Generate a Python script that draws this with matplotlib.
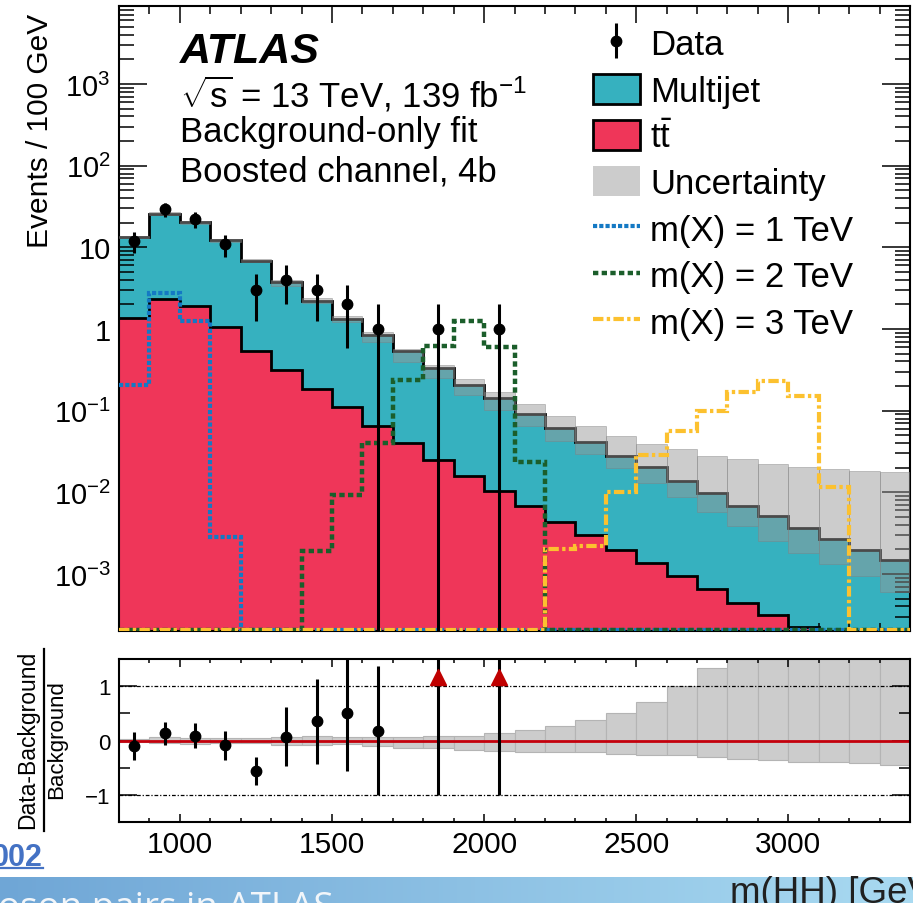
import numpy as np
import matplotlib
matplotlib.use('Agg')
import matplotlib.pyplot as plt
from matplotlib.patches import Patch
from matplotlib.lines import Line2D
from matplotlib.colors import LinearSegmentedColormap
from matplotlib.ticker import LogLocator, FuncFormatter, MultipleLocator, FixedLocator, NullFormatter

plt.rcParams['font.family'] = ['Liberation Sans', 'DejaVu Sans']
plt.rcParams['mathtext.fontset'] = 'custom'
plt.rcParams['mathtext.rm'] = 'Liberation Sans'
plt.rcParams['mathtext.it'] = 'Liberation Sans:italic'
plt.rcParams['mathtext.bf'] = 'Liberation Sans:bold'

# bins in m(HH) [GeV]
edges = np.arange(800, 3401, 100)
centers = edges[:-1] + 50

# total background (multijet + ttbar)
total_bkg = np.array([13.4, 25.6, 20.2, 12.1, 6.86, 3.73, 2.22, 1.33, 0.845, 0.543,
                      0.333, 0.206, 0.142, 0.091, 0.0608, 0.0417, 0.0281, 0.0202, 0.0139,
                      0.00973, 0.00686, 0.00509, 0.00363, 0.00268, 0.00199, 0.00146])
ttbar = np.array([1.36, 2.33, 1.93, 1.06, 0.538, 0.315, 0.184, 0.111, 0.0655, 0.0402,
                  0.0249, 0.016, 0.0105, 0.00687, 0.00437, 0.0030, 0.00199, 0.00136, 0.00095,
                  0.000645, 0.000442, 0.000315, 0.000222, 0.00015, 0.0001, 0.00007])
# uncertainty band edges (main panel)
unc_hi = np.array([13.9, 27.0, 21.2, 12.6, 7.15, 3.97, 2.40, 1.42, 0.91, 0.569,
                   0.363, 0.244, 0.168, 0.121, 0.0853, 0.0644, 0.0486, 0.0391, 0.034,
                   0.0281, 0.0258, 0.0222, 0.0206, 0.0193, 0.0184, 0.0176])
unc_lo = np.array([13.0, 24.6, 19.1, 11.6, 6.55, 3.40, 2.05, 1.23, 0.687, 0.391,
                   0.249, 0.155, 0.102, 0.064, 0.0429, 0.0295, 0.0197, 0.0130, 0.0087,
                   0.0057, 0.0039, 0.00256, 0.00179, 0.00133, 0.00095, 0.000597])
# relative uncertainty in the ratio panel
ratio_hi = np.array([0.03, 0.06, 0.05, 0.04, 0.04, 0.06, 0.09, 0.06, 0.06, 0.06, 0.09, 0.08, 0.14,
                     0.20, 0.27, 0.37, 0.50, 0.70, 1.00, 1.34, 2.0, 2.0, 2.0, 2.0, 2.0, 2.0])
ratio_lo = np.array([0.03, 0.04, 0.06, 0.04, 0.04, 0.09, 0.08, 0.07, 0.10, 0.14, 0.14, 0.17, 0.19,
                     0.21, 0.21, 0.22, 0.24, 0.26, 0.26, 0.31, 0.34, 0.36, 0.39, 0.39, 0.42, 0.46])

data = np.array([12, 29, 22, 11, 3, 4, 3, 2, 1, 0, 1, 0, 1,
                 0, 0, 0, 0, 0, 0, 0, 0, 0, 0, 0, 0, 0])

sig_1tev = np.array([0.206, 2.76, 1.26, 0.00282, 0, 0, 0, 0, 0, 0, 0, 0, 0,
                     0, 0, 0, 0, 0, 0, 0, 0, 0, 0, 0, 0, 0])
sig_2tev = np.array([0, 0, 0, 0, 0, 0, 0.00191, 0.00927, 0.0402, 0.238, 0.625, 1.26, 0.597,
                     0.0235, 0, 0, 0, 0, 0, 0, 0, 0, 0, 0, 0, 0])
sig_3tev = np.array([0, 0, 0, 0, 0, 0, 0, 0, 0, 0, 0, 0, 0,
                     0, 0.00203, 0.00222, 0.0102, 0.0286, 0.0558, 0.098, 0.168, 0.233, 0.150,
                     0.0115, 0, 0])

c_multijet = '#36b1bf'
c_ttbar = '#ef3659'
c_1tev = '#1479c4'
c_2tev = '#1b5e2b'
c_3tev = '#fcc12f'
ls_1tev = (0, (1.0, 0.5))
ls_2tev = (0, (1.2, 0.75))
ls_3tev = (0, (2.5, 0.8, 0.8, 0.8))

W, H = 913, 904
fig = plt.figure(figsize=(W / 100, H / 100), dpi=100)

def fx(px):
    return px / W

def fy(py):
    return 1 - py / H

ax = fig.add_axes([fx(119), fy(632), fx(910) - fx(119), fy(7) - fy(632)])
rax = fig.add_axes([fx(119), fy(823), fx(910) - fx(119), fy(660) - fy(823)])

ylo, yhi = 2e-4, 9e3
base = 1e-7

# stacked backgrounds
ax.stairs(total_bkg, edges, fill=True, baseline=base, color=c_multijet, zorder=1)
ax.stairs(ttbar, edges, fill=True, baseline=base, color=c_ttbar, zorder=2)
ax.stairs(ttbar, edges, baseline=None, color='k', lw=2, zorder=2.5)
ax.stairs(total_bkg, edges, baseline=None, color='k', lw=2, zorder=2.5)

# uncertainty band
ax.bar(centers, unc_hi - unc_lo, bottom=unc_lo, width=100, color='#989898', alpha=0.49,
       edgecolor='#808080', linewidth=0.6, zorder=3)

# signals
def floor(v):
    return np.where(v > 0, v, ylo * 1.03)

ax.stairs(floor(sig_1tev), edges, baseline=None, color=c_1tev, lw=3, ls=ls_1tev, zorder=4)
ax.stairs(floor(sig_2tev), edges, baseline=None, color=c_2tev, lw=3.2, ls=ls_2tev, zorder=4)
ax.stairs(floor(sig_3tev), edges, baseline=None, color=c_3tev, lw=3, ls=ls_3tev, zorder=4)

# data
m = data > 0
err = np.sqrt(data[m])
err_lo = np.minimum(err, data[m] - 1e-9)
hdata = ax.errorbar(centers[m], data[m], yerr=[err_lo, err], fmt='o', color='k', ms=7.5,
                    elinewidth=2.2, capsize=0, zorder=6)

ax.set_yscale('log')
ax.set_xlim(edges[0], edges[-1])
ax.set_ylim(ylo, yhi)
ax.yaxis.set_major_locator(LogLocator(base=10, numticks=20))
ax.yaxis.set_minor_locator(LogLocator(base=10, subs=np.arange(2, 10), numticks=20))

def log_label(v, pos):
    e = int(round(np.log10(v)))
    if e == 0:
        return '1'
    if e == 1:
        return '10'
    return r'$10^{%d}$' % e

ax.yaxis.set_major_formatter(FuncFormatter(log_label))
ax.yaxis.set_minor_formatter(NullFormatter())
ax.xaxis.set_major_locator(MultipleLocator(500))
ax.xaxis.set_minor_locator(MultipleLocator(100))
ax.tick_params(axis='x', which='both', direction='in', top=True, bottom=True, labelbottom=False)
ax.tick_params(axis='x', which='major', length=12, width=1.1)
ax.tick_params(axis='x', which='minor', length=5.5, width=1.1)
ax.tick_params(axis='y', which='both', direction='in', left=True, right=True, labelsize=21, pad=6)
ax.tick_params(axis='y', which='major', length=20, width=1.1)
ax.tick_params(axis='y', which='minor', length=10.5, width=1.1)
for s in ax.spines.values():
    s.set_linewidth(1.5)

# text
fig.text(fx(180), fy(63), 'ATLAS', fontsize=31, fontweight='bold', fontstyle='italic', va='baseline')
fig.text(fx(180), fy(107), r'$\sqrt{\mathrm{s}}$ = 13 TeV, 139 fb$^{\mathrm{-1}}$', fontsize=25,
         va='baseline')
fig.text(fx(180), fy(142), 'Background-only fit', fontsize=25, va='baseline')
fig.text(fx(180), fy(182), 'Boosted channel, 4b', fontsize=25, va='baseline')

handles = [hdata,
           Patch(facecolor=c_multijet, edgecolor='k', linewidth=2),
           Patch(facecolor=c_ttbar, edgecolor='k', linewidth=2),
           Patch(facecolor='#cccccc', edgecolor='none'),
           Line2D([], [], color=c_1tev, lw=3, ls=ls_1tev),
           Line2D([], [], color=c_2tev, lw=3.2, ls=ls_2tev),
           Line2D([], [], color=c_3tev, lw=3, ls=ls_3tev)]
labels = ['Data', 'Multijet', r'$\mathrm{t\bar{t}}$', 'Uncertainty',
          'm(X) = 1 TeV', 'm(X) = 2 TeV', 'm(X) = 3 TeV']
ax.legend(handles, labels, loc='upper left', bbox_to_anchor=(0.599, 0.966), frameon=False,
          fontsize=25, borderpad=0, borderaxespad=0, handlelength=1.35, handleheight=0.95,
          handletextpad=0.3, labelspacing=0.36)

fig.text(fx(40), fy(131), 'Events / 100 GeV', rotation=90, ha='center', va='center', fontsize=21.5)

# ratio panel
rax.bar(centers, ratio_hi + ratio_lo, bottom=-ratio_lo, width=100, color='#cccccc',
        edgecolor='#b4b4b4', linewidth=0.8, zorder=1)
rax.axhline(0, color='#c4000c', lw=2, zorder=2)
for yl in (-1, 1):
    rax.axhline(yl, color='k', lw=0.9, ls=(0, (3, 1.5, 1, 1.5)), zorder=2)

ratio = data[m] / total_bkg[m] - 1
rerr = err / total_bkg[m]
rerr_lo = np.minimum(rerr, ratio + 1 - 1e-9)
rax.errorbar(centers[m], ratio, yerr=[rerr_lo, rerr], fmt='o', color='k', ms=7.5,
             elinewidth=2.2, capsize=0, zorder=5)
rlo, rhi = -1.5, 1.5
over = ratio > rhi
rax.plot(centers[m][over], np.full(over.sum(), rhi - 0.34), '^', color='#c00000', ms=12, zorder=6)

rax.set_xlim(edges[0], edges[-1])
rax.set_ylim(rlo, rhi)
rax.yaxis.set_major_locator(FixedLocator([-1, 0, 1]))
rax.yaxis.set_minor_locator(FixedLocator([-0.5, 0.5]))
rax.xaxis.set_major_locator(MultipleLocator(500))
rax.xaxis.set_minor_locator(MultipleLocator(100))
rax.tick_params(axis='x', which='both', direction='in', top=True, bottom=True, labelsize=21.5, pad=6)
rax.tick_params(axis='x', which='major', length=5.5, width=1.1)
rax.tick_params(axis='x', which='minor', length=3, width=1.1)
rax.tick_params(axis='y', which='both', direction='in', left=True, right=True, labelsize=16, pad=6)
rax.tick_params(axis='y', which='major', length=13, width=1.1)
rax.tick_params(axis='y', which='minor', length=8, width=1.1)
for s in rax.spines.values():
    s.set_linewidth(1.5)

fig.text(fx(28), fy(740), 'Data-Background', rotation=90, ha='center', va='center', fontsize=16.5)
fig.text(fx(57), fy(740), 'Background', rotation=90, ha='center', va='center', fontsize=16)
fig.add_artist(Line2D([fx(44), fx(44)], [fy(650), fy(832)], color='k', lw=1.6))

# slide decorations
bax = fig.add_axes([0, 0, 1, fy(878)])
grad = np.linspace(0, 1, 256)[None, :]
cmap = LinearSegmentedColormap.from_list('banner', ['#6fa6d6', '#a9daf1'])
bax.imshow(grad, aspect='auto', cmap=cmap, extent=[0, 1, 0, 1])
bax.set_axis_off()
fig.text(fx(-2), fy(918), 'oson pairs in ATLAS', fontsize=26.5, color='#f2f6fa',
         family='Open Sans', va='baseline', ha='left')
fig.text(fx(730), fy(903), 'm(HH) [GeV]', fontsize=26.5, va='baseline', ha='left', color='#202020')

fig.text(fx(43), fy(866), '002', fontsize=22, fontweight='bold', color='#4472c4', ha='right',
         va='baseline')
fig.add_artist(Line2D([0, fx(43)], [fy(869), fy(869)], color='#4472c4', lw=1.6))

fig.savefig('out.png', dpi=100)
